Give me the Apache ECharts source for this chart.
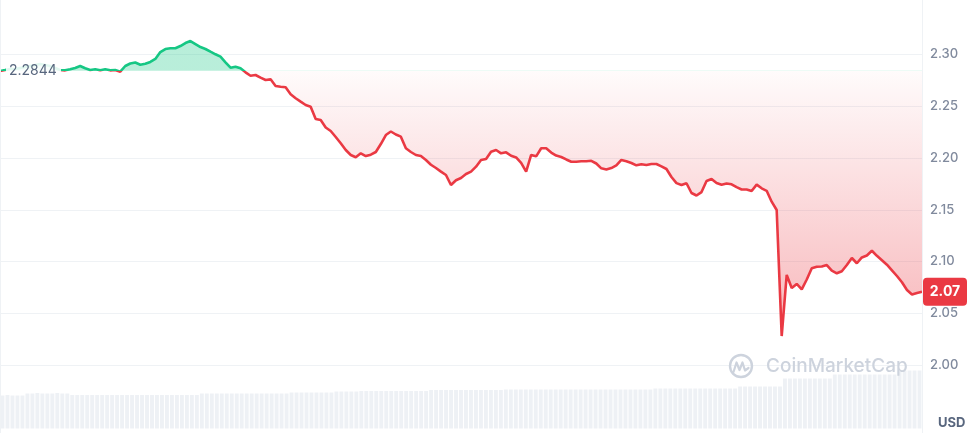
<!DOCTYPE html>
<html>
<head>
<meta charset="utf-8">
<script src="https://cdn.jsdelivr.net/npm/echarts@6/dist/echarts.min.js"></script>
<style>
  html, body { margin: 0; padding: 0; background: #ffffff; }
  #chart { width: 977px; height: 433px; }
</style>
</head>
<body>
<div id="chart"></div>
<script>
// ---- Data ----
const openPrice = 2.2844;
const lastPriceLabel = '2.07';
const yTickLabels = ['2.00', '2.05', '2.10', '2.15', '2.20', '2.25', '2.30'];
const currency = 'USD';

const prices = [
  2.2841, 2.2850, 2.2860, 2.2860, 2.2870, 2.2879, 2.2889, 2.2899, 2.2908, 2.2899,
  2.2889, 2.2870, 2.2850, 2.2847, 2.2857, 2.2870, 2.2889, 2.2867, 2.2850, 2.2857,
  2.2847, 2.2857, 2.2847, 2.2850, 2.2834, 2.2889, 2.2913, 2.2923, 2.2901, 2.2910,
  2.2928, 2.2957, 2.3024, 2.3053, 2.3060, 2.3060, 2.3082, 2.3111, 2.3130, 2.3101,
  2.3072, 2.3053, 2.3027, 2.3002, 2.2979, 2.2925, 2.2872, 2.2882, 2.2867, 2.2828,
  2.2795, 2.2802, 2.2776, 2.2754, 2.2760, 2.2696, 2.2689, 2.2683, 2.2615, 2.2577,
  2.2544, 2.2512, 2.2496, 2.2377, 2.2367, 2.2295, 2.2261, 2.2203, 2.2142, 2.2077,
  2.2029, 2.2007, 2.2045, 2.2019, 2.2032, 2.2058, 2.2135, 2.2222, 2.2256, 2.2227,
  2.2206, 2.2094, 2.2058, 2.2029, 2.2019, 2.1981, 2.1935, 2.1903, 2.1868, 2.1836,
  2.1739, 2.1785, 2.1807, 2.1845, 2.1868, 2.1916, 2.1981, 2.1990, 2.2061, 2.2077,
  2.2045, 2.2055, 2.2022, 2.2005, 2.1952, 2.1868, 2.2029, 2.2016, 2.2094, 2.2094,
  2.2053, 2.2024, 2.2010, 2.1986, 2.1964, 2.1964, 2.1968, 2.1968, 2.1973, 2.1947,
  2.1900, 2.1889, 2.1903, 2.1928, 2.1981, 2.1969, 2.1952, 2.1929, 2.1939, 2.1932,
  2.1942, 2.1942, 2.1919, 2.1894, 2.1816, 2.1757, 2.1739, 2.1756, 2.1662, 2.1638,
  2.1671, 2.1778, 2.1797, 2.1758, 2.1741, 2.1754, 2.1746, 2.1718, 2.1696, 2.1696,
  2.1681, 2.1743, 2.1707, 2.1683, 2.1578, 2.1498, 2.0280, 2.0870, 2.0744, 2.0783,
  2.0731, 2.0826, 2.0934, 2.0950, 2.0952, 2.0966, 2.0911, 2.0886, 2.0906, 2.0966,
  2.1034, 2.0983, 2.1039, 2.1058, 2.1104, 2.1055, 2.1012, 2.0969, 2.0915, 2.0860,
  2.0799, 2.0725, 2.0681, 2.0696, 2.0708
];

const volumes = [
  33, 33.5, 33, 33, 33,
  35, 35, 35.5, 35, 35, 35, 35.5, 35, 35,
  33.5, 33.5, 33.5, 33.5, 33.5, 33.5, 33.5, 33.5, 33.5, 33.5, 33.5, 33.5, 33.5,
  33.5, 33.5, 33.5, 33.5, 33.5, 33.5, 33.5, 33.5, 33.5, 33.5, 33.5, 33.5, 33.5,
  35, 35, 35, 35, 35, 35, 35, 35, 35, 35, 35, 35, 35, 35, 35, 35, 35, 35,
  36, 36, 36, 36, 36, 36, 36, 36, 36,
  37, 37, 37, 37, 37,
  37.5, 37.5, 37.5, 37.5, 37.5, 37.5, 37.5, 37.5, 37.5, 37.5, 37.5, 37.5, 37.5, 37.5,
  38.5, 38.5, 38.5, 38.5, 38.5, 38.5, 38.5, 38.5, 38.5, 38.5, 38.5, 38.5, 38.5, 38.5, 38.5,
  39, 39, 39, 39, 39, 39, 39, 39, 39, 39, 39, 39, 39, 39, 39,
  39, 39, 39, 39, 39, 39, 39, 39, 39, 39, 39, 39, 39, 39, 39,
  40, 40, 40, 40, 40, 40, 40, 40, 40, 40, 40, 40, 40, 40, 40, 40, 40,
  42, 42, 42, 42, 42, 42, 42, 42, 42,
  50, 50, 50, 50, 50, 50, 50, 50, 50, 50,
  54, 54, 54, 54, 54, 54, 54, 54, 54, 54, 54, 54, 54,
  58, 58, 58, 58, 58
];

const categories = prices.map((_, i) => String(i));

// ---- Chart ----
const chart = echarts.init(document.getElementById('chart'), null, { renderer: 'canvas' });
const FONT = 'Inter, "Noto Sans", sans-serif';

function buildOption(areaColor) {
  return {
    animation: false,
    backgroundColor: '#ffffff',
    grid: [
      { left: 0, right: 55, top: 2.75, bottom: 16.25 },
      { left: 0, right: 55, bottom: 4.5, height: 60 }
    ],
    xAxis: [
      { type: 'category', gridIndex: 0, data: categories, boundaryGap: false, show: false },
      { type: 'category', gridIndex: 1, data: categories, boundaryGap: true, show: false }
    ],
    yAxis: [
      {
        type: 'value', gridIndex: 0, position: 'right',
        min: 1.95, max: 2.35, interval: 0.05,
        axisLine: { show: false }, axisTick: { show: false },
        splitLine: { show: true, showMinLine: false, showMaxLine: false,
          lineStyle: { color: '#eff2f5', width: 1 } },
        axisLabel: {
          show: true, showMinLabel: false, showMaxLabel: false,
          margin: 8, color: '#808a9d', fontSize: 13, fontWeight: 500, fontFamily: FONT,
          formatter: function (v) {
            const s = v.toFixed(2);
            return yTickLabels.indexOf(s) >= 0 ? s : '';
          }
        }
      },
      { type: 'value', gridIndex: 1, min: 0, max: 60, show: false }
    ],
    visualMap: [{
      type: 'piecewise', show: false, seriesIndex: 0, dimension: 1,
      pieces: [
        { gte: 1.9, lte: openPrice, color: '#ea3943' },
        { gt: openPrice, lte: 2.4, color: '#16c784' }
      ]
    }],
    series: [
      {
        type: 'line', xAxisIndex: 0, yAxisIndex: 0,
        data: prices, symbol: 'none', smooth: false, z: 5,
        lineStyle: { width: 2.6 },
        areaStyle: { origin: openPrice, color: areaColor, opacity: 1 }
      },
      {
        type: 'bar', xAxisIndex: 1, yAxisIndex: 1,
        data: volumes, barCategoryGap: '22%', z: 1,
        itemStyle: { color: '#eef1f5' }, silent: true
      }
    ]
  };
}

chart.setOption(buildOption('rgba(234,57,67,0.1)'));

const baseY = chart.convertToPixel({ yAxisIndex: 0 }, openPrice);
const lowY = chart.convertToPixel({ yAxisIndex: 0 }, 2.03);
const topY = chart.convertToPixel({ yAxisIndex: 0 }, 2.32);
const off = (baseY - topY) / (lowY - topY);
const grad = new echarts.graphic.LinearGradient(0, topY, 0, lowY, [
  { offset: 0, color: 'rgba(22,199,132,0.30)' },
  { offset: off, color: 'rgba(22,199,132,0.30)' },
  { offset: off, color: 'rgba(234,57,67,0.02)' },
  { offset: 1, color: 'rgba(234,57,67,0.36)' }
], true);
chart.setOption(buildOption(grad), true);

const lastIdx = prices.length - 1;
const lastPt = chart.convertToPixel({ xAxisIndex: 0, yAxisIndex: 0 }, [lastIdx, prices[lastIdx]]);
const basePt = baseY;
const axisX = lastPt[0];

chart.setOption({
  graphic: [
    { type: 'line', shape: { x1: 0.5, y1: 0, x2: 0.5, y2: 433 },
      style: { stroke: '#eff2f5', lineWidth: 1 }, z: 10 },
    { type: 'line', shape: { x1: axisX + 0.5, y1: 0, x2: axisX + 0.5, y2: 433 },
      style: { stroke: '#eff2f5', lineWidth: 1 }, z: 10 },
    { type: 'circle', shape: { cx: 741, cy: 366, r: 11 },
      style: { stroke: '#cdd3dd', fill: 'none', lineWidth: 2.4 }, z: 20 },
    { type: 'polyline', shape: { points: [[733.5, 372], [736.5, 362.5], [739.5, 370], [742.5, 362.5], [745, 370.5], [748.5, 368]] },
      style: { stroke: '#cdd3dd', fill: 'none', lineWidth: 2.2, lineJoin: 'round', lineCap: 'round' }, z: 20 },
    { type: 'text', x: 766, y: 366,
      style: { text: 'CoinMarketCap', fill: '#cdd3dd', font: '500 19px ' + FONT,
        verticalAlign: 'middle' }, z: 20 },
    { type: 'rect', shape: { x: 6, y: basePt - 9, width: 55, height: 18 },
      style: { fill: 'rgba(255,255,255,0.88)' }, z: 30 },
    { type: 'text', x: 9, y: basePt,
      style: { text: openPrice.toFixed(4), fill: '#58667e', font: '14px ' + FONT,
        verticalAlign: 'middle' }, z: 31 },
    { type: 'rect', shape: { x: axisX + 1, y: lastPt[1] - 14, width: 44, height: 28, r: 4 },
      style: { fill: '#ea3943' }, z: 40 },
    { type: 'text', x: axisX + 23, y: lastPt[1],
      style: { text: lastPriceLabel, fill: '#ffffff', font: 'bold 14px ' + FONT,
        align: 'center', verticalAlign: 'middle' }, z: 41 },
    { type: 'text', x: axisX + 16, y: 423,
      style: { text: currency, fill: '#58667e', font: 'bold 13px ' + FONT,
        verticalAlign: 'middle' }, z: 20 }
  ]
});
</script>
</body>
</html>
